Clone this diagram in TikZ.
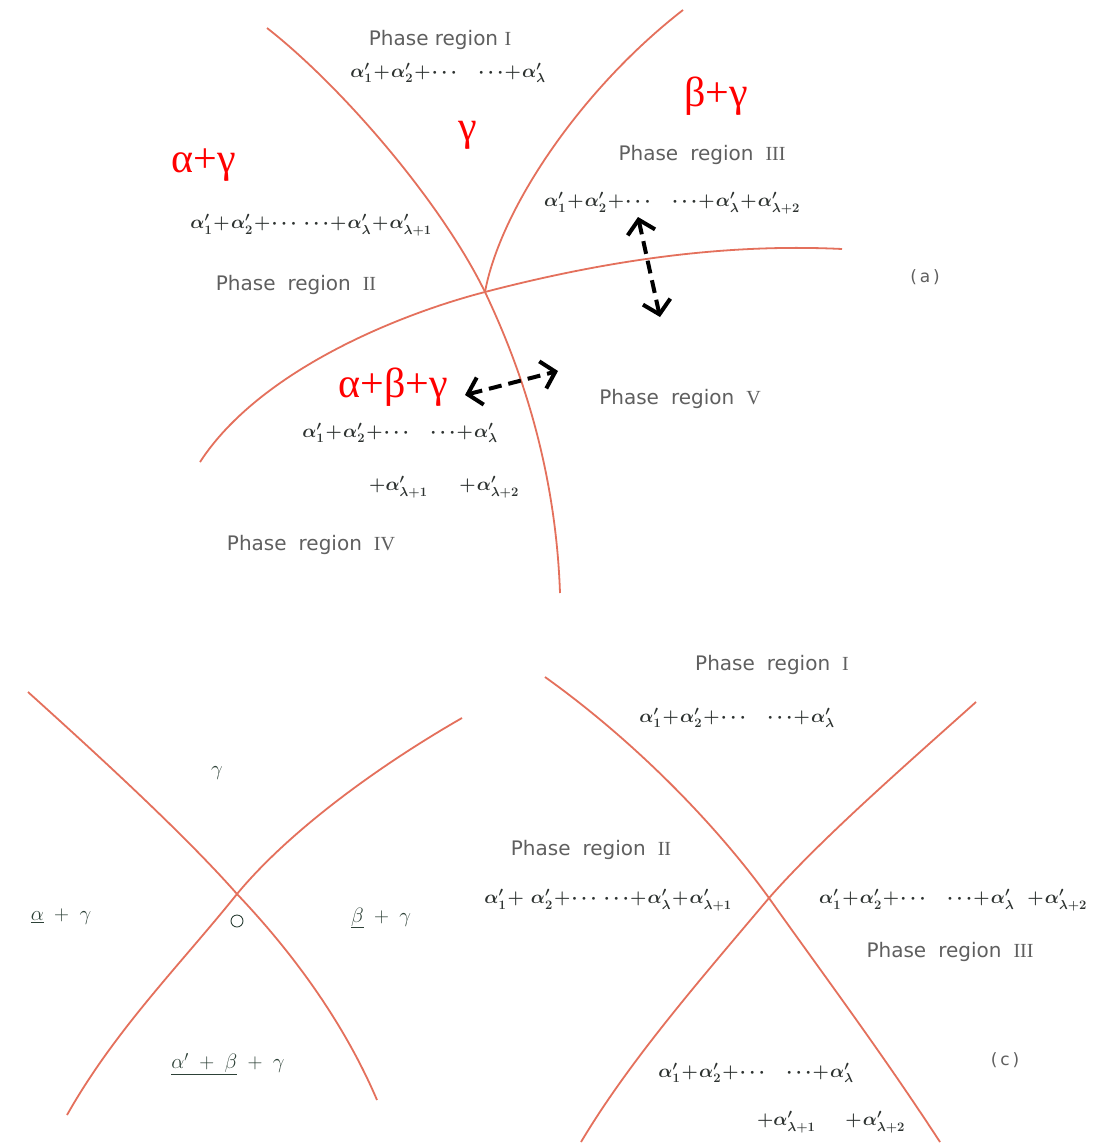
\documentclass[tikz,border=0pt]{standalone}
\usepackage{graphicx}
\usepackage{fontspec}
\setmainfont{Liberation Serif}
\setsansfont{DejaVu Sans}
\usetikzlibrary{arrows.meta}
\definecolor{curvecol}{RGB}{228,112,92}
\definecolor{lblgray}{RGB}{95,95,95}
\definecolor{fmlcol}{RGB}{45,50,48}
\definecolor{bcol}{RGB}{45,65,55}
\newcommand{\wsp}{\hspace{0.6em}}
\newcommand{\fm}[1]{\scalebox{0.9}{$\medmuskip=1mu\relax #1$}}
\begin{document}
\begin{tikzpicture}[x=1pt,y=-1pt]
\tikzset{
 curve/.style={draw=curvecol, line width=1.8pt},
 phase/.style={text=lblgray, font=\sffamily\fontsize{20}{24}\selectfont, inner sep=0pt},
 fml/.style={text=fmlcol, font=\fontsize{20}{24}\selectfont\boldmath, inner sep=0pt},
 redlbl/.style={text=red, font=\fontsize{42}{46}\selectfont, inner sep=0pt},
 blbl/.style={text=bcol, font=\fontsize{22}{26}\selectfont, inner sep=0pt},
 darrow/.style={draw=black, line width=4pt, dash pattern=on 13pt off 7pt,
   {Straight Barb[length=13pt,width=28pt]}-{Straight Barb[length=13pt,width=28pt]}},
 tag/.style={text=lblgray, font=\sffamily\fontsize{17}{20}\selectfont, inner sep=0pt}
}
\fill[white] (0,0) rectangle (1099,1145);
\useasboundingbox (0,0) rectangle (1099,1145);

% ---------- (a) ----------
\draw[curve] (267,28) .. controls (340,85) and (440,200) .. (485,292)
             .. controls (510,345) and (555,450) .. (560,593);
\draw[curve] (485,292) .. controls (500,210) and (580,90) .. (683,10);
\draw[curve] (200,462) .. controls (260,370) and (400,314) .. (485,292)
             .. controls (600,262) and (720,243) .. (842,249);

\node[phase] (aI) at (440,40) {Phase region \textrm{I}};
\node[fml] (afI) at (448,73) {\fm{\alpha'_1+\alpha'_2+\cdots\quad\cdots+\alpha'_\lambda}};
\node[redlbl] (agam) at (468,135) {γ};
\node[redlbl] (abg) at (716,96) {β+γ};
\node[redlbl] (aag) at (204,165) {α+γ};
\node[phase] (aIII) at (702,155) {Phase\wsp region\wsp \textrm{III}};
\node[fml] (afIII) at (672,203) {\fm{\alpha'_1+\alpha'_2+\cdots\quad\cdots+\alpha'_\lambda+\alpha'_{\lambda+2}}};
\node[fml] (afII) at (311,225) {\fm{\alpha'_1+\alpha'_2+\cdots\,\cdots+\alpha'_\lambda+\alpha'_{\lambda+1}}};
\node[phase] (aII) at (296,285) {Phase\wsp region\wsp \textrm{II}};
\node[tag] (atag) at (925,277) {(\,a\,)};
\node[redlbl] (aabg) at (393,387) {α+β+γ};
\node[phase] (aV) at (680,399) {Phase\wsp region\wsp \textrm{V}};
\node[fml] (afIVa) at (400,433) {\fm{\alpha'_1+\alpha'_2+\cdots\quad\cdots+\alpha'_\lambda}};
\node[fml] (afIVb) at (444,487) {\fm{+\alpha'_{\lambda+1}\hspace{1.7em}+\alpha'_{\lambda+2}}};
\node[phase] (aIV) at (311,545) {Phase\wsp region\wsp \textrm{IV}};

\coordinate (ar1a) at (638,217);
\coordinate (ar1b) at (660,317);
\coordinate (ar2a) at (465,395);
\coordinate (ar2b) at (558,371);
\draw[darrow] (ar1a) -- (ar1b);
\draw[darrow] (ar2a) -- (ar2b);

% ---------- (b) ----------
\draw[curve] (28,692) .. controls (100,757) and (185,835) .. (237,894)
             .. controls (295,955) and (345,1025) .. (377,1100);
\draw[curve] (462,718) .. controls (380,765) and (290,830) .. (237,894)
             .. controls (180,965) and (115,1030) .. (67,1115);
\node[blbl] (bgam) at (217,773) {$\gamma$};
\node[blbl] (bag) at (61,917) {$\underline{\alpha}\;+\;\gamma$};
\node[circle, draw=bcol, line width=0.9pt, minimum size=12pt, inner sep=0pt] (bo) at (237,921) {};
\node[blbl] (bbg) at (381,918) {$\underline{\beta}\;+\;\gamma$};
\node[blbl] (babg) at (228,1064) {$\underline{\alpha'\;+\;\beta}\;+\;\gamma$};

% ---------- (c) ----------
\draw[curve] (545,677) .. controls (640,745) and (720,830) .. (769,898)
             .. controls (820,970) and (880,1050) .. (940,1142);
\draw[curve] (976,702) .. controls (900,770) and (820,840) .. (769,898)
             .. controls (700,980) and (630,1060) .. (581,1142);
\node[phase] (cI) at (772,665) {Phase\wsp region\wsp \textrm{I}};
\node[fml] (cfI) at (737,718) {\fm{\alpha'_1+\alpha'_2+\cdots\quad\cdots+\alpha'_\lambda}};
\node[phase] (cII) at (591,850) {Phase\wsp region\wsp \textrm{II}};
\node[fml] (cfII) at (608,900) {\fm{\alpha'_1+\;\alpha'_2+\cdots\,\cdots+\alpha'_\lambda+\alpha'_{\lambda+1}}};
\node[fml] (cfIII) at (953,900) {\fm{\alpha'_1+\alpha'_2+\cdots\quad\cdots+\alpha'_\lambda\;\;+\alpha'_{\lambda+2}}};
\node[phase] (cIII) at (950,952) {Phase\wsp region\wsp \textrm{III}};
\node[tag] (ctag) at (1005,1060) {(\,c\,)};
\node[fml] (cfIVa) at (756,1073) {\fm{\alpha'_1+\alpha'_2+\cdots\quad\cdots+\alpha'_\lambda}};
\node[fml] (cfIVb) at (831,1122) {\fm{+\alpha'_{\lambda+1}\hspace{1.6em}+\alpha'_{\lambda+2}}};
\end{tikzpicture}
\end{document}
